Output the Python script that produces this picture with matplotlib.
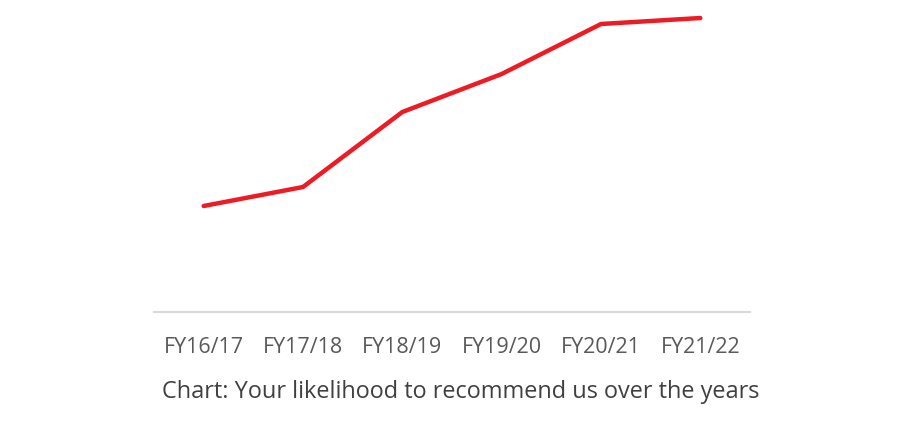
import matplotlib
matplotlib.use("Agg")
import matplotlib.pyplot as plt

# data (relative scale, no y-axis shown)
years = ["FY16/17", "FY17/18", "FY18/19", "FY19/20", "FY20/21", "FY21/22"]
scores = [5.3, 6.25, 10.0, 11.9, 14.4, 14.7]

plt.rcParams["font.family"] = ["Open Sans", "DejaVu Sans"]

fig = plt.figure(figsize=(9.23, 4.37), dpi=100, facecolor="white")
ax = fig.add_axes([154 / 923, 125 / 437, 596 / 923, 312 / 437])

x = range(len(years))
ax.plot(x, scores, color="#ED1C24", linewidth=3.2, solid_capstyle="round")

ax.set_xlim(-0.5, len(years) - 0.5)
ax.set_ylim(0, 15.6)
ax.set_yticks([])
ax.set_xticks(list(x))
ax.set_xticklabels(years, color="#595959", fontsize=15.5)
ax.tick_params(axis="x", length=0, pad=18)

for s in ["top", "right", "left"]:
    ax.spines[s].set_visible(False)
ax.spines["bottom"].set_color("#d9d9d9")
ax.spines["bottom"].set_linewidth(1.5)

fig.text(162 / 923, 1 - 392 / 437, "Chart: Your likelihood to recommend us over the years",
         color="#404040", fontsize=16.9, va="center", ha="left")

fig.savefig("out.png", dpi=100, facecolor="white")
